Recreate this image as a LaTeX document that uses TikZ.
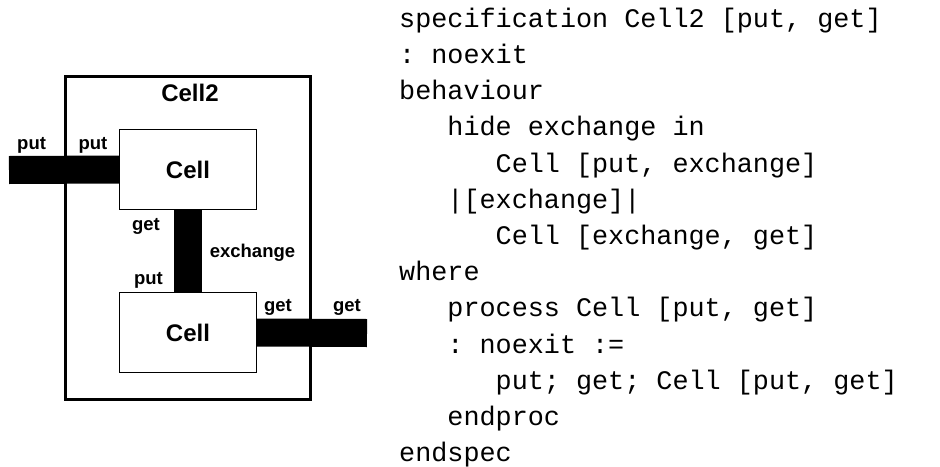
\documentclass[tikz,border=0pt]{standalone}
\usepackage{fontspec}
\setmainfont{Liberation Sans}
\newfontfamily\specfont{Liberation Mono}
\usetikzlibrary{positioning}
\frenchspacing
\tikzset{
	cellbox/.style  = {draw, line width=1.3pt, minimum width=137pt,
		minimum height=80pt, font=\fontsize{24}{24}\selectfont\bfseries},
	outerbox/.style = {draw, line width=2.6pt, minimum width=245pt,
		minimum height=323pt},
	gate/.style     = {inner sep=0pt, anchor=base,
		font=\fontsize{18.5}{18.5}\selectfont\bfseries}, % gate names
	boxname/.style  = {inner sep=0pt, anchor=base,
		font=\fontsize{24}{24}\selectfont\bfseries},
	chan/.style     = {line width=28pt}, % channel bars
	spectext/.style = {inner sep=0pt, anchor=base west, align=left,
		font=\specfont\fontsize{26.8}{36.2}\selectfont}
}
\newcommand{\specindent}{\hspace*{1.8em}}

\begin{document}
\begin{tikzpicture}[x=1pt, y=-1pt]
	\useasboundingbox (0,0) rectangle (940,466);
	\draw
	node at (188,238) [outerbox] (cellii) {}
	node at (190,101.7) [boxname] (cellname) {Cell2}
	node at (188,169.5) [cellbox] (celltop) {Cell}
	node at (188,332.5) [cellbox] (cellbot) {Cell}
	coordinate (putext) at (9,170)
	coordinate (getext) at (367,333);
	
	\draw[chan](putext)--(celltop.west);
	\draw[chan](celltop.south)--(cellbot.north);
	\draw[chan](cellbot.east)--(getext);
	
	\draw
	node at (31.6,149) [gate] (putout) {put}
	node at (93,149) [gate] (putin) {put}
	node at (146,230) [gate] (gettop) {get}
	node at (252.5,257.7) [gate] (exch) {exchange}
	node at (148.5,284) [gate] (putbot) {put}
	node at (278,311.7) [gate] (getin) {get}
	node at (347,311.7) [gate] (getout) {get};
	
	\node at (399,461.7) [spectext] (spec) {specification Cell2 [put, get]\\
		: noexit\\
		behaviour\\
		\specindent hide exchange in\\
		\specindent\specindent Cell [put, exchange]\\
		\specindent|[exchange]|\\
		\specindent\specindent Cell [exchange, get]\\
		where\\
		\specindent process Cell [put, get]\\
		\specindent: noexit :=\\
		\specindent\specindent put; get; Cell [put, get]\\
		\specindent endproc\\
		endspec};
\end{tikzpicture}
\end{document}
